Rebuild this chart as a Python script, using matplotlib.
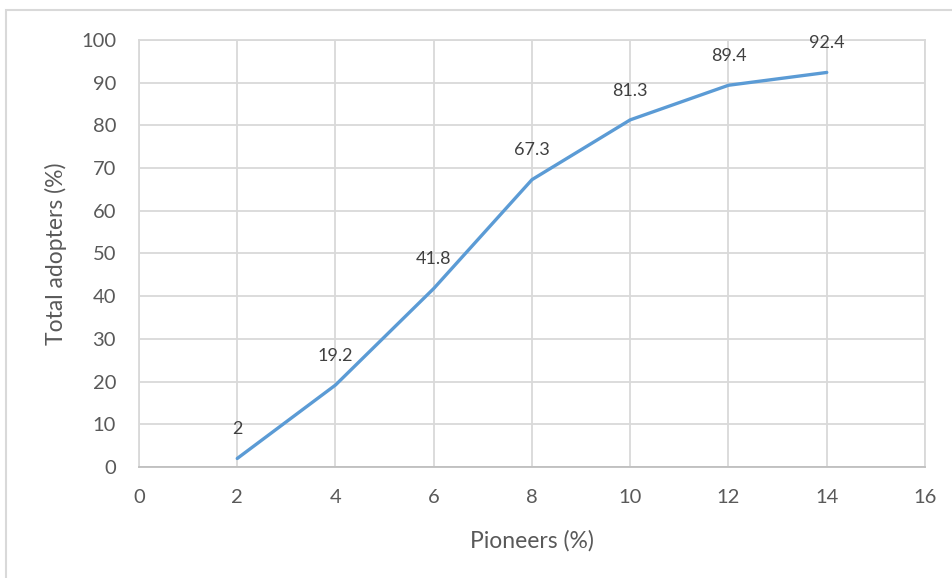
import matplotlib
matplotlib.use("Agg")
import matplotlib.pyplot as plt
from matplotlib.patches import Rectangle

pioneers = [2, 4, 6, 8, 10, 12, 14]
adopters = [2, 19.2, 41.8, 67.3, 81.3, 89.4, 92.4]
x_ticks = [0, 2, 4, 6, 8, 10, 12, 14, 16]
y_ticks = [0, 10, 20, 30, 40, 50, 60, 70, 80, 90, 100]

W, H = 953, 578
fig = plt.figure(figsize=(W / 100, H / 100), dpi=100)
plt.rcParams['font.family'] = ['Lato', 'DejaVu Sans']

# outer chart frame (runs past the right and bottom edges)
fig.patches.append(Rectangle((6 / W, -0.2), 1.2, 1.2 - 10 / H, transform=fig.transFigure,
                             fill=False, edgecolor='#D9D9D9', linewidth=1.5))

ax = fig.add_axes([139 / W, 1 - 467 / H, (925 - 139) / W, (467 - 40) / H])
ax.set_xlim(0, 16)
ax.set_ylim(0, 100)
ax.set_xticks(x_ticks)
ax.set_yticks(y_ticks)
ax.grid(True, color='#D9D9D9', linewidth=1.3)
ax.set_axisbelow(True)
for side in ['top', 'right', 'left']:
    ax.spines[side].set_color('#D9D9D9')
    ax.spines[side].set_linewidth(1.3)
ax.spines['bottom'].set_color('#BFBFBF')
ax.spines['bottom'].set_linewidth(1.3)
ax.tick_params(length=0, labelsize=14.5, labelcolor='#595959')
ax.tick_params(axis='x', pad=16)
ax.tick_params(axis='y', pad=16.5)

ax.plot(pioneers, adopters, color='#5B9BD5', linewidth=2.4, solid_capstyle='round')
for xv, yv in zip(pioneers, adopters):
    ax.annotate(f"{yv:g}", (xv, yv), xytext=(0, 21), textcoords='offset points',
                ha='center', va='center', fontsize=13, color='#404040')

ax.set_xlabel('Pioneers (%)', fontsize=16.5, color='#595959', labelpad=17)
ax.set_ylabel('Total adopters (%)', fontsize=16.5, color='#595959', labelpad=10)

fig.savefig('out.png', dpi=100)
